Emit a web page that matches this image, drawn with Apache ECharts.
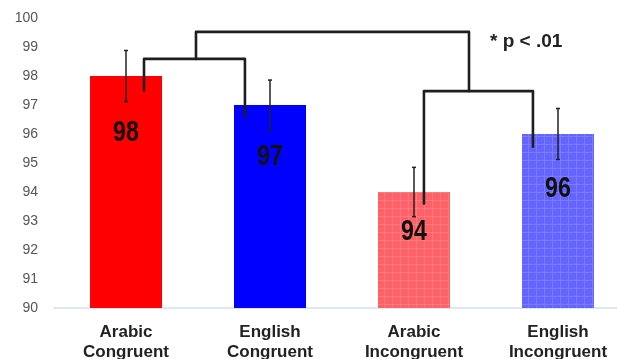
<!DOCTYPE html>
<html>
<head>
<meta charset="utf-8">
<script src="https://cdn.jsdelivr.net/npm/echarts@6/dist/echarts.min.js"></script>
<style>
  html, body { margin: 0; padding: 0; background: #fff; }
  #chart { width: 617px; height: 359px; }
</style>
</head>
<body>
<div id="chart"></div>
<script>
// Accuracy (%) per condition with error-bar half widths
const categories = ['Arabic\nCongruent', 'English\nCongruent', 'Arabic\nIncongruent', 'English\nIncongruent'];
const accuracy = [98, 97, 94, 96];
const errorHalf = [0.88, 0.86, 0.85, 0.88];
const yTicks = { min: 90, max: 100, step: 1 };
const noteText = '* p < .01';

// Comparison brackets as polylines in (category position, accuracy) space
const bracketLow = [[0.125, 97.5], [0.125, 98.59], [0.826, 98.59], [0.826, 96.6]];
const bracketTop = [[0.486, 98.59], [0.486, 99.52], [2.382, 99.52], [2.382, 97.48]];
const bracketHigh = [[2.069, 93.6], [2.069, 97.48], [2.826, 97.48], [2.826, 95.56]];

// Styling: how far below each bar top its value label sits (px)
const labelDrop = [57, 52, 40, 55];

function gridFill(base, line) {
  const c = document.createElement('canvas');
  c.width = 8; c.height = 8;
  const g = c.getContext('2d');
  g.fillStyle = base;
  g.fillRect(0, 0, 8, 8);
  g.fillStyle = line;
  g.fillRect(0, 0, 8, 1);
  g.fillRect(0, 1, 1, 7);
  return { image: c, repeat: 'repeat' };
}

const barColors = [
  '#FF0000',
  '#0000FF',
  gridFill('#FF6166', 'rgba(255,255,255,0.16)'),
  gridFill('#6464FF', 'rgba(255,255,255,0.16)')
];

const chart = echarts.init(document.getElementById('chart'), null, { renderer: 'canvas' });

const bracketStyle = { color: '#1e1e1e', width: 2.6, cap: 'round', join: 'round' };
function bracketSeries(points) {
  return {
    type: 'line',
    xAxisIndex: 1,
    data: points,
    symbol: 'none',
    lineStyle: bracketStyle,
    silent: true,
    z: 5,
    animation: false
  };
}

chart.setOption({
  animation: false,
  // the plot area runs past the right edge of the canvas
  grid: { left: 54, width: 576, top: 18, bottom: 51, containLabel: false, outerBoundsMode: 'none' },
  xAxis: [
    {
      type: 'category',
      data: categories,
      axisLine: { show: true, lineStyle: { color: '#D6DFEE', width: 1.5 } },
      axisTick: { show: false },
      axisLabel: {
        interval: 0,
        margin: 14,
        color: '#222',
        fontFamily: 'Liberation Sans, Arial, sans-serif',
        fontWeight: 'bold',
        fontSize: 17,
        lineHeight: 20
      }
    },
    {
      type: 'value',
      min: -0.5,
      max: 3.5,
      show: false
    }
  ],
  yAxis: {
    type: 'value',
    min: yTicks.min,
    max: yTicks.max,
    interval: yTicks.step,
    axisLine: { show: false },
    axisTick: { show: false },
    splitLine: { show: false },
    axisLabel: {
      margin: 16,
      color: '#555',
      fontFamily: 'Liberation Sans, Arial, sans-serif',
      fontSize: 14
    }
  },
  series: [
    {
      type: 'bar',
      barWidth: '50%',
      data: accuracy.map((v, i) => ({ value: v, itemStyle: { color: barColors[i] } })),
      z: 2
    },
    {
      // value labels, drawn narrow
      type: 'custom',
      data: accuracy.map((v, i) => [i, v]),
      renderItem: function (params, api) {
        const p = api.coord([api.value(0), api.value(1)]);
        return {
          type: 'text',
          x: p[0],
          y: p[1] + labelDrop[params.dataIndex],
          scaleX: 0.8,
          style: {
            text: String(api.value(1)),
            fill: '#111',
            font: 'bold 29px "Liberation Sans", Arial, sans-serif',
            align: 'center',
            verticalAlign: 'middle'
          }
        };
      },
      z: 3,
      silent: true
    },
    {
      type: 'custom',
      data: accuracy.map((v, i) => [i, v - errorHalf[i], v + errorHalf[i]]),
      renderItem: function (params, api) {
        const lo = api.coord([api.value(0), api.value(1)]);
        const hi = api.coord([api.value(0), api.value(2)]);
        const cap = 2;
        const style = { stroke: '#222', lineWidth: 1.5 };
        return {
          type: 'group',
          children: [
            { type: 'line', shape: { x1: lo[0], y1: lo[1], x2: hi[0], y2: hi[1] }, style: style },
            { type: 'line', shape: { x1: hi[0] - cap, y1: hi[1], x2: hi[0] + cap, y2: hi[1] }, style: style },
            { type: 'line', shape: { x1: lo[0] - cap, y1: lo[1], x2: lo[0] + cap, y2: lo[1] }, style: style }
          ]
        };
      },
      z: 4,
      silent: true
    },
    bracketSeries(bracketLow),
    bracketSeries(bracketTop),
    bracketSeries(bracketHigh)
  ],
  graphic: [
    {
      type: 'text',
      left: 490,
      top: 32,
      style: {
        text: noteText,
        fill: '#222',
        fontFamily: 'Liberation Sans, Arial, sans-serif',
        fontWeight: 'bold',
        fontSize: 19
      }
    }
  ]
});
</script>
</body>
</html>
